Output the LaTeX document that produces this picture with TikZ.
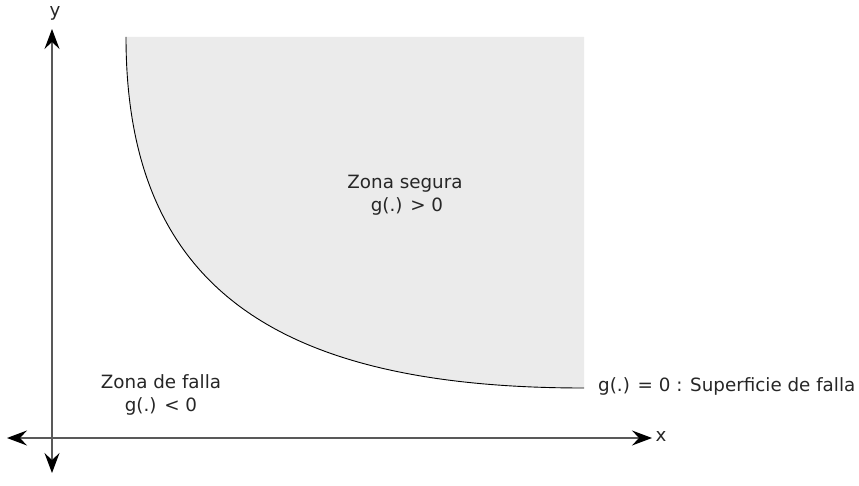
\documentclass[tikz,border=0pt]{standalone}
\usepackage{fontspec}
\setmainfont{DejaVu Sans}
\usetikzlibrary{arrows.meta}
\begin{document}
\begin{tikzpicture}[x=1pt,y=-1pt,
  axis/.style={draw=black!65,line width=1.2pt,-{Stealth[length=20pt,width=15pt,inset=7pt,black]}},
  lbl/.style={font=\fontsize{18.3}{21}\selectfont,text=black!85,inner sep=0pt,align=center},
  zone/.style={fill=black!8,draw=none}]
\useasboundingbox (0,0) rectangle (859,486);
\coordinate (ctop) at (126,37);
\coordinate (cend) at (584,388);
\fill[zone] (ctop) .. controls (126,290) and (280,388) .. (cend) -- (584,37) -- cycle;
\draw[black,line width=0.9pt] (ctop) .. controls (126,290) and (280,388) .. (cend);
\coordinate (o) at (52,438);
\coordinate (xr) at (652,438);
\coordinate (xl) at (7,438);
\coordinate (yt) at (52,29);
\coordinate (yb) at (52,473);
\draw[axis] (o) -- (xr);
\draw[axis] (o) -- (xl);
\draw[axis] (o) -- (yt);
\draw[axis] (o) -- (yb);
\node[lbl] (ylab) at (55,13) {y};
\node[lbl] (xlab) at (661,436) {x};
\node[lbl] (safe) at (405,195) {Zona segura\\[2pt]\hspace*{4pt}g(.) > 0};
\node[lbl] (fail) at (161,395) {Zona de falla\\[2pt]g(.) < 0};
\node[lbl,anchor=west] (surf) at (598,386) {g(.) = 0 : Superficie de falla};
\end{tikzpicture}
\end{document}
